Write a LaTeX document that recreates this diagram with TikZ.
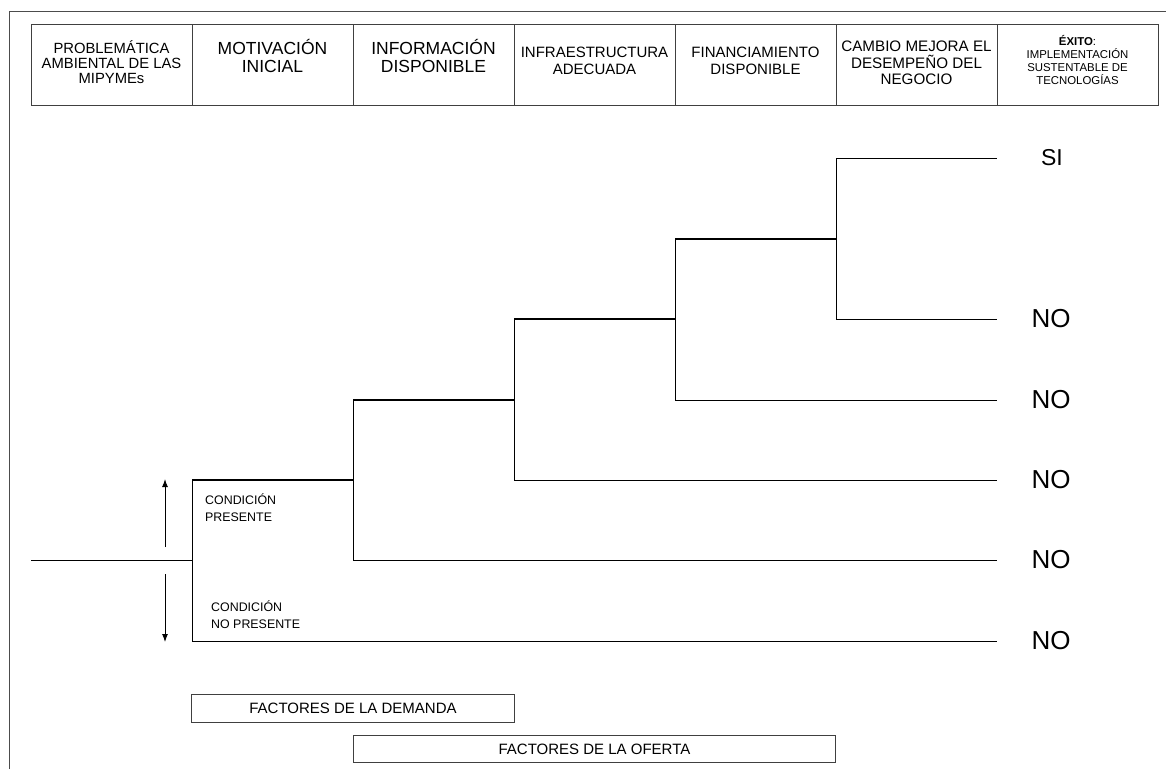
\documentclass[tikz,border=0pt]{standalone}
\usepackage{fontspec}
\setmainfont{Liberation Sans}
\usetikzlibrary{arrows.meta}

\tikzset{
  framecol/.style={draw=black!70, line width=1pt},
  cell/.style={draw=black!75, line width=1pt, minimum width=161pt, minimum height=81pt,
    inner sep=0pt, anchor=north west},
  htext/.style={align=center, inner sep=0pt},
  branch/.style={draw=black, line width=1pt},
  upper/.style={draw=black, line width=1.3pt},
  outcome/.style={inner sep=0pt, anchor=center},
  cond/.style={align=left, inner sep=0pt, anchor=north west,
    font={\fontsize{12.4}{16.5}\selectfont}},
  factor/.style={draw=black!75, line width=1pt, inner sep=0pt},
  indicator/.style={draw=black, line width=1pt, -{Latex[length=8pt,width=6pt]}},
}

\begin{document}
\begin{tikzpicture}[x=1pt,y=-1pt]
\useasboundingbox (0,0) rectangle (1166,769);

% outer frame (top and left edges)
\coordinate (fl) at (9,769);
\coordinate (fc) at (9,11);
\coordinate (fr) at (1166,11);
\draw[framecol] (fl) -- (fc) -- (fr);

% header row
\node[cell] (c1) at (31,24) {};
\node[cell] (c2) at (192,24) {};
\node[cell] (c3) at (353,24) {};
\node[cell] (c4) at (514,24) {};
\node[cell] (c5) at (675,24) {};
\node[cell] (c6) at (836,24) {};
\node[cell] (c7) at (997,24) {};

\node[htext, font={\fontsize{14.8}{15}\selectfont}] (t1) at (111.5,62) {PROBLEMÁTICA\\AMBIENTAL DE LAS\\MIPYMEs};
\node[htext, font={\fontsize{17.5}{18}\selectfont}] (t2) at (272.5,56) {MOTIVACIÓN\\INICIAL};
\node[htext, font={\fontsize{17.5}{18}\selectfont}] (t3) at (433.5,56) {INFORMACIÓN\\DISPONIBLE};
\node[htext, font={\fontsize{15}{17}\selectfont}] (t4) at (594.5,61) {INFRAESTRUCTURA\\ADECUADA};
\node[htext, font={\fontsize{15}{17}\selectfont}] (t5) at (755.5,61) {FINANCIAMIENTO\\DISPONIBLE};
\node[htext, font={\fontsize{15.2}{16.5}\selectfont}] (t6) at (916.5,63) {CAMBIO MEJORA EL\\DESEMPEÑO DEL\\NEGOCIO};
\node[htext, font={\fontsize{11.4}{13}\selectfont}] (t7) at (1077.5,60) {\textbf{ÉXITO}:\\IMPLEMENTACIÓN\\SUSTENTABLE DE\\TECNOLOGÍAS};

% decision tree: corner points
\coordinate (root) at (31,560);
\coordinate (k1) at (192,560);
\coordinate (k1u) at (192,480);
\coordinate (k1d) at (192,641);
\coordinate (k2) at (353,480);
\coordinate (k2u) at (353,400);
\coordinate (k2d) at (353,560);
\coordinate (k3) at (514,400);
\coordinate (k3u) at (514,319);
\coordinate (k3d) at (514,480);
\coordinate (k4) at (675,319);
\coordinate (k4u) at (675,239);
\coordinate (k4d) at (675,400);
\coordinate (k5) at (836,239);
\coordinate (k5u) at (836,158);
\coordinate (k5d) at (836,319);

% branch ends
\coordinate (e1) at (997,158);
\coordinate (e2) at (997,319);
\coordinate (e3) at (997,400);
\coordinate (e4) at (997,480);
\coordinate (e5) at (997,560);
\coordinate (e6) at (997,641);

% outcomes
\node[outcome, font={\fontsize{23}{23}\selectfont}] (o1) at (1052,158) {SI};
\node[outcome, font={\fontsize{26}{26}\selectfont}] (o2) at (1051,319) {NO};
\node[outcome, font={\fontsize{26}{26}\selectfont}] (o3) at (1051,400) {NO};
\node[outcome, font={\fontsize{26}{26}\selectfont}] (o4) at (1051,480) {NO};
\node[outcome, font={\fontsize{26}{26}\selectfont}] (o5) at (1051,560) {NO};
\node[outcome, font={\fontsize{26}{26}\selectfont}] (o6) at (1051,641) {NO};

% tree lines
\draw[branch] (root) -- (k1);
\draw[branch] (k1u) -- (k1d) -- (e6);
\draw[upper] (k1u) -- (k2);
\draw[branch] (k2u) -- (k2d) -- (e5);
\draw[upper] (k2u) -- (k3);
\draw[branch] (k3u) -- (k3d) -- (e4);
\draw[upper] (k3u) -- (k4);
\draw[branch] (k4u) -- (k4d) -- (e3);
\draw[upper] (k4u) -- (k5);
\draw[branch] (k5u) -- (k5d) -- (e2);
\draw[branch] (k5u) -- (e1);

% condition indicators
\coordinate (au0) at (165,547);
\coordinate (au1) at (165,479);
\coordinate (ad0) at (165,574);
\coordinate (ad1) at (165,642);
\draw[indicator] (au0) -- (au1);
\draw[indicator] (ad0) -- (ad1);

\node[cond] (cp) at (205,494) {CONDICIÓN\\PRESENTE};
\node[cond] (cn) at (211,601) {CONDICIÓN\\NO PRESENTE};

% factor groups
\node[factor, minimum width=323pt, minimum height=28pt, anchor=north west,
  font={\fontsize{15}{15}\selectfont}] (fd) at (191,694) {FACTORES DE LA DEMANDA};
\node[factor, minimum width=482pt, minimum height=27pt, anchor=north west,
  font={\fontsize{15}{15}\selectfont}] (fo) at (353,735) {FACTORES DE LA OFERTA};
\end{tikzpicture}
\end{document}
